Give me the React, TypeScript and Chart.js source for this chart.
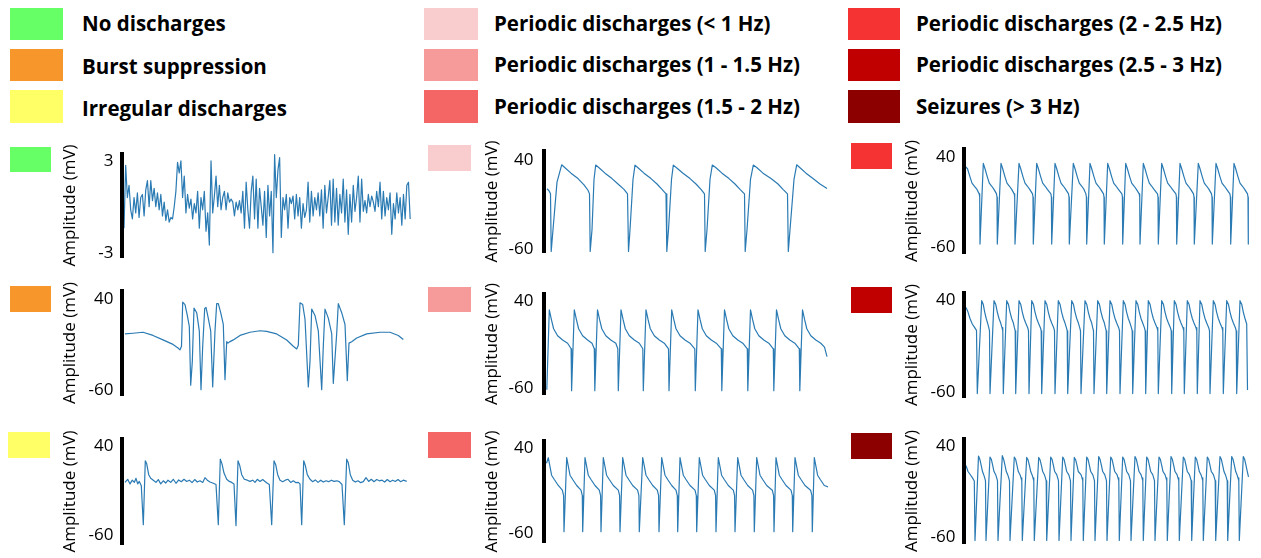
import React, { useEffect, useRef } from 'react';
import { Chart, registerables } from 'chart.js';

Chart.register(...registerables);

const FONT = '"Open Sans", "Noto Sans", "DejaVu Sans", sans-serif';
const TRACE = '#2a7ab3';

// ---- class names and colours ----
const classLabels = [
  'No discharges',
  'Burst suppression',
  'Irregular discharges',
  'Periodic discharges (< 1 Hz)',
  'Periodic discharges (1 - 1.5 Hz)',
  'Periodic discharges (1.5 - 2 Hz)',
  'Periodic discharges (2 - 2.5 Hz)',
  'Periodic discharges (2.5 - 3 Hz)',
  'Seizures (> 3 Hz)',
];
const classColors = ['#66FF66', '#F7962B', '#FFFF66', '#F9CDCD', '#F79A9A', '#F46565', '#F53333', '#C00000', '#8C0000'];

// ---- axis ticks ----
const smallTicks = [-3, 3];
const bigTicks = [-60, 40];

// ---- traces (time in sample units, amplitude in mV) ----
const noDischargeV = [
  -1.4, 2.7, 0.6, 1.4, -0.2, -0.8, 0.6, -0.4, 0.9, -0.7, 0.6, 0.8, -0.6, 1.1, 1.7, 0.0, 1.7, 0.4, 1.2, 0.0,
  0.9, -0.2, 0.8, -0.6, 0.3, -0.9, -0.2, -1.0, -0.7, -0.8, 0.0, 1.0, 2.9, 2.2, 3.0, 0.6, 2.0, -0.4, 0.8, -0.1,
  0.5, -0.8, 0.2, -0.4, 1.0, -1.4, 0.6, -0.2, 1.0, -1.6, -0.4, -2.5, 3.0, -0.4, 0.7, 2.0, 0.0, 1.4, -0.2, 0.6,
  1.0, -0.2, 0.9, 0.3, 0.5, 0.3, -0.6, 0.3, -0.2, 0.4, -0.4, 1.0, -1.4, 1.6, -0.2, -1.4, 1.0, 2.0, -0.8, 1.8,
  -1.4, 1.2, 0.0, -1.2, 1.0, -2.0, 1.4, -0.6, 1.0, -3.0, 3.4, 0.6, 2.4, 3.2, -2.0, 0.6, -0.2, 0.8, -1.4, 0.6,
  0.2, 0.7, -0.8, 0.8, -0.6, 0.6, -1.4, 0.2, -0.7, -0.2, 1.6, -1.0, 1.0, -0.6, 0.6, -0.2, 0.9, -0.6, 1.1, -1.4,
  1.4, -0.4, 0.6, 1.7, -1.2, 1.8, -1.0, 1.2, -1.2, 0.8, -0.4, 1.8, -1.0, 1.1, -1.8, 0.8, -1.0, 1.4, -0.3, 0.6,
  2.0, -1.0, 1.8, -0.3, 0.4, -0.4, 0.8, 0.0, 0.7, 0.3, -0.3, 1.0, 0.0, 1.6, -0.8, 1.0, -0.6, 0.6, -0.2, 0.9,
  -1.8, 0.2, -0.8, 0.9, -0.4, 0.6, -1.2, 0.8, -0.8, 1.4, 1.6, -0.8,
];

const burstSuppression: [number, number][] = [
  [1, 1.6], [9, 2.3], [19, 3.4], [29, -0.1], [39, -5], [49, -10], [54, -14], [56, -16], [57.5, -12],
  [58.7, 36.6], [61, 34], [63.3, 22], [65.3, 10], [66.7, -55], [68.3, -29], [70, 30], [72.7, 25], [75.3, 5],
  [77, -60], [78.7, -12], [80.7, 29.7], [82, 30.8], [84.3, 18.8], [86.7, 5], [88.7, -57], [91, 5], [92.7, 35],
  [94.3, 35], [96.7, 25], [99.3, 12], [101, -49], [102.7, -7], [104, -8.6], [106, -6.9], [109.3, -5], [116, -0.1],
  [126, 3.4], [136, 5.1], [142.7, 4.4], [152.7, 1.6], [162.7, -5.2], [169.3, -12], [172.7, -15], [174.3, -11],
  [176, 36], [178.7, 34], [181, 18], [184.3, -57], [186, -29], [187.7, 29], [191, 22], [194.3, 5], [197.7, -60],
  [199.3, -12], [201, 29], [204.3, 19], [207.7, 2], [209.3, -53], [212.7, 2], [214.3, 35], [217.7, 25], [221, 12],
  [223.3, -50], [225, -8.6], [227.7, -7], [232.7, -3], [242.7, 1.6], [256, 3.4], [266, 3.4], [274.3, -0.1], [279.3, -4.5],
];

const irregularDischarges: [number, number][] = [
  [1, -0.8], [3.7, 2.7], [6, -2.5], [8.3, 1.7], [10.3, -0.8], [12, 3.8], [13.7, -2.5], [15.3, 0.3], [17.3, -4.6],
  [19.3, -48.5], [21.3, 23.6], [22.7, 20.1], [24.7, 7.9], [26.7, 3.8], [29.3, 1.7], [32, -0.8], [34.3, 2.4],
  [36.7, -2.5], [39.3, 1.0], [41.7, -1.5], [44, 1.7], [46.7, -0.8], [49.3, 2.7], [52, -1.8], [54.7, 2.0], [57.3, 0],
  [60, 2.7], [62.7, 0.3], [65.3, 1.7], [68, -1.1], [70.7, 2.4], [73.3, -0.4], [76, 1.0], [78.7, -0.8], [81, 4.5],
  [83.3, 1.7], [86, -0.4], [89.3, -1.8], [92, -3.2], [94.3, -48.5], [96.3, 25.4], [98, 20.1], [100, 9.7],
  [102.7, 2.7], [105.3, 0.3], [107.7, -0.8], [110, -2.5], [112, -49.5], [114, 23.6], [115.7, 18.4], [117.7, 7.9],
  [120.3, 2.7], [123.3, 1.7], [126, 0.3], [128.7, 1.7], [131, -0.8], [133.3, 2.7], [136, 0.3], [138.7, 2.4],
  [141, 0.3], [143.3, -1.8], [145.3, -3.2], [147.7, -48.5], [150, 23.6], [151.7, 19.1], [153.7, 7.9], [156, 1.7],
  [158.7, 0], [161.3, 1.7], [164, 2.7], [166.7, -0.8], [169.3, 1.0], [172, -1.1], [174.3, -0.8], [176, -2.5],
  [177.7, -48.5], [179.7, 23.6], [181.3, 18.4], [183.3, 7.9], [186, 2.7], [188.7, 0], [191.3, 2.0], [194, -0.8],
  [196.7, 1.7], [199.3, -0.4], [202, 1.0], [204.7, 0], [207.3, 1.7], [210, 0.3], [212.7, 1.0], [215.3, 0],
  [218, -3.2], [220.3, -48.5], [222.7, 25.4], [224.3, 21.2], [226.3, 7.9], [228.7, 1.7], [231.3, -0.4], [234, 1.0],
  [236.7, -1.1], [239.3, 0], [242, 4.5], [244.7, 0.3], [247.3, 2.7], [250, 0], [252.7, 2.4], [255.3, 1.0],
  [258, 1.7], [260.7, -0.4], [263.3, 2.4], [266, 0], [268.7, 1.7], [271.3, 0.3], [274, 2.4], [276.7, 0],
  [279.3, 1.7], [282.7, 0.3],
];

const pdBelow1: [number, number][] = [
  [1, 7.7], [3, 5.5], [4.5, 2], [5.2, -62],
  [7, -38], [11, 15], [15.7, 34.3], [19, 31], [25, 25], [32, 19], [38, 12], [42, 6], [43.5, 2],
  [44.2, -62], [46, -38], [48, 18], [49.7, 34], [53, 31], [59, 25], [66, 19], [72, 13], [78, 7], [81.5, 2],
  [82.5, -62], [84, -38], [87, 18], [89, 34], [92, 31], [98, 25], [105, 19], [111, 13], [116, 7], [120, 2],
  [120.8, -62], [122.5, -38], [125.5, 18], [127.3, 34], [130.5, 31], [137, 25], [144, 19], [150, 13], [155, 7], [158.5, 2],
  [159.2, -62], [161, -38], [164, 18], [166.3, 34], [170, 31], [176, 25], [183, 19], [189, 13], [194, 7], [198.5, 2],
  [199.2, -62], [201, -38], [204.5, 18], [207.3, 34], [211, 31], [217, 25], [225, 19], [232, 13], [237, 7], [241.5, 2],
  [242.3, -62], [244, -38], [248, 18], [250.7, 34.3], [254, 31], [260, 25], [267, 19], [274, 13], [281, 8],
];

const pd1to15: [number, number][] = [
  [0.8, -62], [3.3, 29.7], [5.3, 19], [7.6, 8], [11.6, 0], [16.6, -5], [21.6, -8.6], [25.1, -15], [25.6, -63],
  [28.3, 29.7], [30.3, 19], [32.6, 8], [36.6, 0], [41.6, -5], [46, -8.6], [48.3, -15], [48.8, -63],
  [51.5, 29.7], [53.5, 19], [55.8, 8], [59.8, 0], [64.8, -5], [69.8, -8.6], [71.8, -15], [72.3, -63],
  [75, 29.7], [77, 19], [79.3, 8], [83.3, 0], [88.3, -5], [93.3, -8.6], [96.8, -15], [97.3, -63],
  [100, 29.7], [102, 19], [104.3, 8], [108.3, 0], [113.3, -5], [118.3, -8.6], [122.5, -15], [123, -63],
  [125.7, 29.7], [127.7, 19], [130, 8], [134, 0], [139, -5], [144, -8.6], [148.8, -15], [149.3, -63],
  [152, 29.7], [154, 19], [156.3, 8], [160.3, 0], [165.3, -5], [170.3, -8.6], [175.3, -15], [175.8, -63],
  [178.5, 29.7], [180.5, 19], [182.8, 8], [186.8, 0], [191.8, -5], [196.8, -8.6], [201.3, -15], [201.8, -63],
  [204.5, 29.7], [206.5, 19], [208.8, 8], [212.8, 0], [217.8, -5], [222.8, -8.6], [227.3, -15], [227.8, -63],
  [230.5, 29.7], [232.5, 19], [234.8, 8], [238.8, 0], [243.8, -5], [248.8, -8.6], [253.3, -15], [253.8, -63],
  [256.5, 29.7], [258.5, 19], [260.8, 8], [264.8, 0], [269.8, -5], [274.8, -8.6], [278.5, -13], [281, -24],
];

const pd15to2: [number, number][] = [
  [0.5, 22], [2.3, 28.5], [4, 18], [5.6, 8], [8.3, 3], [12.3, -4], [16.3, -9.5], [17.6, -16], [18, -58],
  [20.7, 28.5], [22.4, 18], [24, 8], [26.7, 3], [30.7, -4], [35, -9.5], [36.3, -16], [36.7, -58],
  [39, 28.5], [40.7, 18], [42.3, 8], [45, 3], [49, -4], [53.3, -9.5], [54.6, -16], [55, -58],
  [57.3, 28.5], [59, 18], [60.6, 8], [63.3, 3], [67.3, -4], [72.3, -9.5], [73.6, -16], [74, -58],
  [76.7, 28.5], [78.4, 18], [80, 8], [82.7, 3], [86.7, -4], [91.6, -9.5], [92.9, -16], [93.3, -58],
  [96.7, 28.5], [98.4, 18], [100, 8], [102.7, 3], [106.7, -4], [111.3, -9.5], [112.6, -16], [113, -58],
  [115.7, 28.5], [117.4, 18], [119, 8], [121.7, 3], [125.7, -4], [130, -9.5], [131.3, -16], [131.7, -58],
  [134, 28.5], [135.7, 18], [137.3, 8], [140, 3], [144, -4], [149, -9.5], [150.3, -16], [150.7, -58],
  [153.3, 28.5], [155, 18], [156.6, 8], [159.3, 3], [163.3, -4], [168.3, -9.5], [169.6, -16], [170, -58],
  [172.3, 28.5], [174, 18], [175.6, 8], [178.3, 3], [182.3, -4], [187.3, -9.5], [188.6, -16], [189, -58],
  [191.7, 28.5], [193.4, 18], [195, 8], [197.7, 3], [201.7, -4], [206.6, -9.5], [207.9, -16], [208.3, -58],
  [210.7, 28.5], [212.4, 18], [214, 8], [216.7, 3], [220.7, -4], [226.3, -9.5], [227.6, -16], [228, -58],
  [230, 28.5], [231.7, 18], [233.3, 8], [236, 3], [240, -4], [245, -9.5], [246.3, -16], [246.7, -58],
  [249, 28.5], [250.7, 18], [252.3, 8], [255, 3], [259, -4], [264.6, -9.5], [265.9, -16], [266.3, -58],
  [268.3, 28.5], [270, 18], [271.6, 8], [274.3, 3], [278.3, -4], [282.7, -6],
];

const pd2to25: [number, number][] = [
  [0, 30], [2.5, 27], [5, 18], [7, 11], [9.5, 7.5], [12, 4], [14.2, -1], [14.7, -4.5], [15, -57],
  [18.3, 33], [20, 27], [22.3, 18], [24.3, 11], [26.8, 7.5], [29, 4], [31.5, -1], [32, -4.5], [32.3, -57],
  [36, 33], [37.7, 27], [40, 18], [42, 11], [44.5, 7.5], [46.7, 4], [49.2, -1], [49.7, -4.5], [50, -57],
  [54, 33], [55.7, 27], [58, 18], [60, 11], [62.5, 7.5], [64.7, 4], [67.5, -1], [68, -4.5], [68.3, -57],
  [71.7, 33], [73.4, 27], [75.7, 18], [77.7, 11], [80.2, 7.5], [82.4, 4], [85.9, -1], [86.4, -4.5], [86.7, -57],
  [90, 33], [91.7, 27], [94, 18], [96, 11], [98.5, 7.5], [100.7, 4], [103.5, -1], [104, -4.5], [104.3, -57],
  [108.3, 33], [110, 27], [112.3, 18], [114.3, 11], [116.8, 7.5], [119, 4], [120.9, -1], [121.4, -4.5], [121.7, -57],
  [125, 33], [126.7, 27], [129, 18], [131, 11], [133.5, 7.5], [135.7, 4], [138.5, -1], [139, -4.5], [139.3, -57],
  [142.7, 33], [144.4, 27], [146.7, 18], [148.7, 11], [151.2, 7.5], [153.4, 4], [156.9, -1], [157.4, -4.5], [157.7, -57],
  [160.7, 33], [162.4, 27], [164.7, 18], [166.7, 11], [169.2, 7.5], [171.4, 4], [174.2, -1], [174.7, -4.5], [175, -57],
  [178.3, 33], [180, 27], [182.3, 18], [184.3, 11], [186.8, 7.5], [189, 4], [192.5, -1], [193, -4.5], [193.3, -57],
  [196.7, 33], [198.4, 27], [200.7, 18], [202.7, 11], [205.2, 7.5], [207.4, 4], [210.9, -1], [211.4, -4.5], [211.7, -57],
  [215, 33], [216.7, 27], [219, 18], [221, 11], [223.5, 7.5], [225.7, 4], [228.5, -1], [229, -4.5], [229.3, -57],
  [233.3, 33], [235, 27], [237.3, 18], [239.3, 11], [241.8, 7.5], [244, 4], [246.5, -1], [247, -4.5], [247.3, -57],
  [251, 33], [252.7, 27], [255, 18], [257, 11], [259.5, 7.5], [261.7, 4], [264.9, -1], [265.4, -4.5], [265.7, -57],
  [269, 33], [270.7, 27], [273, 18], [275, 11], [277.5, 7.5], [279.7, 4], [282.5, -1], [283, -4.5], [283.3, -57],
];

const pd25to3: [number, number][] = [
  [1, 32], [3, 27], [5, 20], [7.3, 14], [9.7, 10], [11.5, 7], [12.3, -62],
  [16.7, 39.5], [18.2, 35.6], [19.7, 27], [21.2, 20], [22.6, 15], [23.8, 10], [24.5, 6.6], [25, -62],
  [29, 39.5], [30.7, 35.6], [32.3, 27], [34, 20], [35.7, 15], [37, 10], [37.8, 6.6], [38.3, -62],
  [41.7, 39.5], [43.4, 35.6], [45, 27], [46.7, 20], [48.4, 15], [49.4, 10], [50.2, 6.6], [50.7, -62],
  [54, 39.5], [55.7, 35.6], [57.3, 27], [59, 20], [60.7, 15], [62.7, 10], [63.5, 6.6], [64, -62],
  [66.7, 39.5], [68.4, 35.6], [70, 27], [71.7, 20], [73.4, 15], [75.4, 10], [76.2, 6.6], [76.7, -62],
  [80, 39.5], [81.7, 35.6], [83.3, 27], [85, 20], [86.7, 15], [88.7, 10], [89.5, 6.6], [90, -62],
  [93.3, 39.5], [95, 35.6], [96.6, 27], [98.3, 20], [100, 15], [101.4, 10], [102.2, 6.6], [102.7, -62],
  [106.7, 39.5], [108.4, 35.6], [110, 27], [111.7, 20], [113.4, 15], [114.7, 10], [115.5, 6.6], [116, -62],
  [120, 39.5], [121.7, 35.6], [123.3, 27], [125, 20], [126.7, 15], [127.7, 10], [128.5, 6.6], [129, -62],
  [132.7, 39.5], [134.4, 35.6], [136, 27], [137.7, 20], [139.4, 15], [140.4, 10], [141.2, 6.6], [141.7, -62],
  [145, 39.5], [146.7, 35.6], [148.3, 27], [150, 20], [151.7, 15], [153.7, 10], [154.5, 6.6], [155, -62],
  [158.3, 39.5], [160, 35.6], [161.6, 27], [163.3, 20], [165, 15], [166.4, 10], [167.2, 6.6], [167.7, -62],
  [171, 39.5], [172.7, 35.6], [174.3, 27], [176, 20], [177.7, 15], [179.4, 10], [180.2, 6.6], [180.7, -62],
  [183.3, 39.5], [185, 35.6], [186.6, 27], [188.3, 20], [190, 15], [192, 10], [192.8, 6.6], [193.3, -62],
  [196.7, 39.5], [198.4, 35.6], [200, 27], [201.7, 20], [203.4, 15], [205.4, 10], [206.2, 6.6], [206.7, -62],
  [209.3, 39.5], [211, 35.6], [212.6, 27], [214.3, 20], [216, 15], [218, 10], [218.8, 6.6], [219.3, -62],
  [222.3, 39.5], [224, 35.6], [225.6, 27], [227.3, 20], [229, 15], [231, 10], [231.8, 6.6], [232.3, -62],
  [235, 39.5], [236.7, 35.6], [238.3, 27], [240, 20], [241.7, 15], [243.7, 10], [244.5, 6.6], [245, -62],
  [248.3, 39.5], [250, 35.6], [251.6, 27], [253.3, 20], [255, 15], [257, 10], [257.8, 6.6], [258.3, -62],
  [261.7, 39.5], [263.4, 35.6], [265, 27], [266.7, 20], [268.4, 15], [270.4, 10], [271.2, 6.6], [271.7, -62],
  [275, 39.5], [276.7, 35.6], [278.3, 27], [280, 20], [281.7, 14], [282.5, -58],
];

const seizures: [number, number][] = [
  [0, 20], [1.5, 17], [3, 12], [5, 9], [7.5, 5], [9.3, 1.6], [10, -64],
  [13.5, 29], [14.8, 25.6], [16.2, 18.8], [17.5, 12], [18.7, 8.5], [19.7, 5], [20.5, 1.6], [21, -64],
  [25, 28], [26.3, 25.6], [27.7, 18.8], [29, 12], [30.7, 8.5], [31.7, 5], [32.5, 1.6], [33, -64],
  [37.3, 29.5], [38.6, 25.6], [40, 18.8], [41.3, 12], [42.7, 8.5], [43.7, 5], [44.5, 1.6], [45, -64],
  [49.3, 28], [50.6, 25.6], [52, 18.8], [53.3, 12], [55, 8.5], [56, 5], [56.8, 1.6], [57.3, -64],
  [61.7, 27.5], [63, 25], [64.4, 18.8], [65.7, 12], [67, 8.5], [68, 5], [68.8, 1.6], [69.3, -64],
  [73.7, 27.5], [75, 25], [76.4, 18.8], [77.7, 12], [79.4, 8.5], [80.4, 5], [81.2, 1.6], [81.7, -64],
  [85.7, 28], [87, 25.6], [88.4, 18.8], [89.7, 12], [91.7, 8.5], [92.7, 5], [93.5, 1.6], [94, -64],
  [97.7, 28], [99, 25.6], [100.4, 18.8], [101.7, 12], [103.7, 8.5], [104.7, 5], [105.5, 1.6], [106, -64],
  [109.3, 27.5], [110.6, 25], [112, 18.8], [113.3, 12], [116, 8.5], [117, 5], [117.8, 1.6], [118.3, -64],
  [121.7, 28], [123, 25.6], [124.4, 18.8], [125.7, 12], [127.7, 8.5], [128.7, 5], [129.5, 1.6], [130, -64],
  [133.7, 28.5], [135, 25.6], [136.4, 18.8], [137.7, 12], [139.7, 8.5], [140.7, 5], [141.5, 1.6], [142, -64],
  [145.7, 28], [147, 25.6], [148.4, 18.8], [149.7, 12], [152, 8.5], [153, 5], [153.8, 1.6], [154.3, -64],
  [157.7, 28], [159, 25.6], [160.4, 18.8], [161.7, 12], [163.7, 8.5], [164.7, 5], [165.5, 1.6], [166, -64],
  [170, 28.5], [171.3, 25.6], [172.7, 18.8], [174, 12], [176, 8.5], [177, 5], [177.8, 1.6], [178.3, -64],
  [181.7, 28], [183, 25.6], [184.4, 18.8], [185.7, 12], [187.7, 8.5], [188.7, 5], [189.5, 1.6], [190, -64],
  [194, 28], [195.3, 25.6], [196.7, 18.8], [198, 12], [200, 8.5], [201, 5], [201.8, 1.6], [202.3, -64],
  [206, 28.5], [207.3, 25.6], [208.7, 18.8], [210, 12], [212, 8.5], [213, 5], [213.8, 1.6], [214.3, -64],
  [218.3, 28], [219.6, 25.6], [221, 18.8], [222.3, 12], [224.4, 8.5], [225.4, 5], [226.2, 1.6], [226.7, -64],
  [230.3, 28], [231.6, 25.6], [233, 18.8], [234.3, 12], [236, 8.5], [237, 5], [237.8, 1.6], [238.3, -64],
  [242.3, 28], [243.6, 25.6], [245, 18.8], [246.3, 12], [248.4, 8.5], [249.4, 5], [250.2, 1.6], [250.7, -64],
  [255, 28.5], [256.3, 25.6], [257.7, 18.8], [259, 12], [260.4, 8.5], [261.4, 5], [262.2, 1.6], [262.7, -64],
  [266.7, 28.5], [268, 25.6], [269.4, 18.8], [270.7, 12], [272, 8.5], [273, 5], [273.8, 1.6], [274.3, -64],
  [278.3, 28.5], [279.6, 25.6], [281, 18.8], [282.3, 12], [283.5, 6],
];

// ---- layout ----
const YW = 62; // y-axis box width
const PAD = 15; // vertical canvas padding around plot area

type Pt = { x: number; y: number };

interface PanelSpec {
  cls: number;
  points: Pt[];
  left: number;
  top: number;
  bottom: number;
  plotW: number;
  xMin: number;
  xMax: number;
  yMin: number;
  yMax: number;
  ticks: number[];
  tickPad: number;
  sw: [number, number, number, number];
}

const pairs = (arr: [number, number][]): Pt[] => arr.map(([x, y]) => ({ x, y }));
const noDischargePts: Pt[] = noDischargeV.map((y, i) => ({ x: i, y }));

const panels: PanelSpec[] = [
  { cls: 0, points: noDischargePts, left: 60, top: 150, bottom: 261, plotW: 289, xMin: -1.2, xMax: 171.5, yMin: -3.3, yMax: 3.46, ticks: smallTicks, tickPad: 8.5, sw: [10, 147, 41, 25] },
  { cls: 1, points: pairs(burstSuppression), left: 60, top: 287, bottom: 399, plotW: 289, xMin: -2, xMax: 287, yMin: -66.2, yMax: 49.3, ticks: bigTicks, tickPad: 8.5, sw: [10, 286, 41, 26] },
  { cls: 2, points: pairs(irregularDischarges), left: 60, top: 435, bottom: 548, plotW: 289, xMin: -2, xMax: 287, yMin: -70.5, yMax: 48.4, ticks: bigTicks, tickPad: 8.5, sw: [8, 432, 42, 26] },
  { cls: 3, points: pairs(pdBelow1), left: 482, top: 145, bottom: 258, plotW: 284, xMin: -2, xMax: 282, yMin: -63, yMax: 50, ticks: bigTicks, tickPad: 10.5, sw: [428, 145, 43, 26] },
  { cls: 4, points: pairs(pd1to15), left: 482, top: 288, bottom: 400, plotW: 284, xMin: -2, xMax: 282, yMin: -67.2, yMax: 48.2, ticks: bigTicks, tickPad: 10.5, sw: [428, 287, 43, 25] },
  { cls: 5, points: pairs(pd15to2), left: 482, top: 435, bottom: 548, plotW: 284, xMin: -2, xMax: 282, yMin: -70.5, yMax: 48.4, ticks: bigTicks, tickPad: 10.5, sw: [428, 432, 43, 26] },
  { cls: 6, points: pairs(pd2to25), left: 902, top: 145, bottom: 257, plotW: 286, xMin: -1, xMax: 285, yMin: -67.3, yMax: 49.4, ticks: bigTicks, tickPad: 8.5, sw: [851, 143, 41, 26] },
  { cls: 7, points: pairs(pd25to3), left: 902, top: 289, bottom: 401, plotW: 286, xMin: -1, xMax: 285, yMin: -66.1, yMax: 48.2, ticks: bigTicks, tickPad: 8.5, sw: [851, 287, 41, 26] },
  { cls: 8, points: pairs(seizures), left: 902, top: 435, bottom: 547, plotW: 286, xMin: -1, xMax: 285, yMin: -67.2, yMax: 48.2, ticks: bigTicks, tickPad: 8.5, sw: [851, 433, 41, 26] },
];

function Panel({ spec }: { spec: PanelSpec }) {
  const ref = useRef<HTMLCanvasElement>(null);
  const width = YW + spec.plotW;
  const height = spec.bottom - spec.top + 2 * PAD;
  useEffect(() => {
    if (!ref.current) return;
    const chart = new Chart(ref.current, {
      type: 'line',
      data: {
        datasets: [
          {
            data: spec.points,
            borderColor: TRACE,
            borderWidth: 1.2,
            pointRadius: 0,
            tension: 0,
            fill: false,
            borderJoinStyle: 'round',
          },
        ],
      },
      options: {
        animation: false,
        responsive: false,
        maintainAspectRatio: false,
        devicePixelRatio: 1,
        events: [],
        parsing: false,
        normalized: true,
        layout: { padding: { top: PAD, bottom: PAD, left: 0, right: 0 } },
        plugins: { legend: { display: false }, tooltip: { enabled: false }, title: { display: false } },
        scales: {
          x: { type: 'linear', min: spec.xMin, max: spec.xMax, display: false },
          y: {
            type: 'linear',
            min: spec.yMin,
            max: spec.yMax,
            afterFit: (s: any) => {
              s.width = YW;
            },
            afterBuildTicks: (s: any) => {
              s.ticks = spec.ticks.map((v) => ({ value: v }));
            },
            ticks: {
              autoSkip: false,
              padding: spec.tickPad,
              color: '#000',
              font: { family: FONT, size: 17 },
            },
            grid: { display: false, drawTicks: false },
            border: { display: true, color: '#000', width: 4, z: 1 },
            title: {
              display: true,
              text: 'Amplitude (mV)',
              color: '#000',
              font: { family: FONT, size: 17 },
              padding: { top: 0, bottom: 0 },
            },
          },
        },
      } as any,
    });
    return () => chart.destroy();
  }, [spec]);
  return (
    <canvas
      ref={ref}
      width={width}
      height={height}
      style={{ position: 'absolute', left: spec.left, top: spec.top - PAD, width, height }}
    />
  );
}

// legend layout
const legendCols = [
  { sx: 10, sw: 53, tx: 82, size: 20.5, items: [0, 1, 2], baselines: [31, 74, 116.5] },
  { sx: 424, sw: 54, tx: 494, size: 20.5, items: [3, 4, 5], baselines: [31, 72.7, 114] },
  { sx: 848, sw: 52, tx: 916, size: 20.5, items: [6, 7, 8], baselines: [31, 72.7, 114] },
];
const legendSwatchTops = [7.5, 48.5, 90];
const legendSwatchH = 32.5;

export default function App() {
  return (
    <div
      style={{
        position: 'absolute',
        left: 0,
        top: 0,
        width: 1261,
        height: 558,
        background: '#fff',
        overflow: 'hidden',
        fontFamily: FONT,
      }}
    >
      {legendCols.map((col, ci) =>
        col.items.map((cls, ri) => (
          <React.Fragment key={`lg-${ci}-${ri}`}>
            <div
              style={{
                position: 'absolute',
                left: col.sx,
                top: legendSwatchTops[ri],
                width: col.sw,
                height: legendSwatchH,
                background: classColors[cls],
              }}
            />
            <div
              style={{
                position: 'absolute',
                left: col.tx,
                top: col.baselines[ri] - 0.888 * col.size,
                fontSize: col.size,
                fontWeight: 700,
                lineHeight: 1,
                whiteSpace: 'nowrap',
                color: '#000',
              }}
            >
              {classLabels[cls]}
            </div>
          </React.Fragment>
        ))
      )}
      {panels.map((p, i) => (
        <React.Fragment key={`p-${i}`}>
          <div
            style={{
              position: 'absolute',
              left: p.sw[0],
              top: p.sw[1],
              width: p.sw[2],
              height: p.sw[3],
              background: classColors[p.cls],
            }}
          />
          <Panel spec={p} />
        </React.Fragment>
      ))}
    </div>
  );
}
